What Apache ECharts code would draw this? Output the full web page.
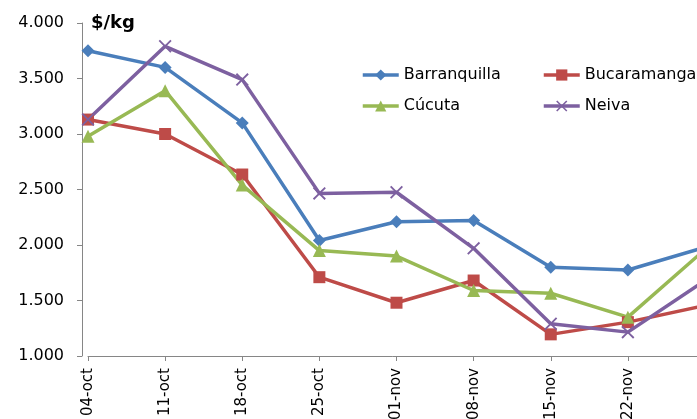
<!DOCTYPE html>
<html>
<head>
<meta charset="utf-8">
<script src="https://cdn.jsdelivr.net/npm/echarts@6/dist/echarts.min.js"></script>
<style>
  html, body { margin: 0; padding: 0; background: #fff; }
  #chart { width: 697px; height: 419px; }
</style>
</head>
<body>
<div id="chart"></div>
<script>
// fechas semanales
var weeks = ['04-oct', '11-oct', '18-oct', '25-oct', '01-nov', '08-nov', '15-nov', '22-nov', '29-nov'];
// precios $/kg por ciudad
var barranquilla = [3750, 3600, 3100, 2040, 2210, 2220, 1800, 1775, 1980];
var bucaramanga = [3130, 3000, 2635, 1710, 1480, 1680, 1195, 1305, 1455];
var cucuta = [2980, 3390, 2540, 1950, 1900, 1590, 1565, 1350, 1960];
var neiva = [3130, 3790, 3490, 2465, 2475, 1970, 1290, 1215, 1680];
var yTicks = { min: 1000, max: 4000, step: 500 };

var FONT = "'Century Gothic', 'DejaVu Sans', sans-serif";
var crossPath = 'path://M0,1 L1,0 L5,4 L9,0 L10,1 L6,5 L10,9 L9,10 L5,6 L1,10 L0,9 L4,5 Z';

function miles(v) {
  return String(v).replace(/\B(?=(\d{3})+(?!\d))/g, '.');
}

function serie(name, data, color, symbol, size) {
  return {
    name: name,
    type: 'line',
    data: data,
    symbol: symbol,
    symbolSize: size,
    showAllSymbol: true,
    lineStyle: { color: color, width: 3.5 },
    itemStyle: { color: color, borderColor: color, borderWidth: 0 },
    emphasis: { disabled: true },
    z: 2
  };
}

function leyenda(names, left) {
  return {
    data: names,
    orient: 'vertical',
    left: left,
    top: 67,
    padding: 0,
    itemWidth: 36,
    itemHeight: 14,
    itemGap: 15,
    lineStyle: { width: 3.5 },
    textStyle: { fontFamily: FONT, fontSize: 16, color: '#000', lineHeight: 16 }
  };
}

var chart = echarts.init(document.getElementById('chart'));
chart.setOption({
  animation: false,
  backgroundColor: '#fff',
  textStyle: { fontFamily: FONT },
  title: {
    text: '$/kg',
    left: 86,
    top: 9,
    textStyle: { fontFamily: FONT, fontSize: 18, fontWeight: 'bold', color: '#000' }
  },
  legend: [leyenda(['Barranquilla', 'Cúcuta'], 361), leyenda(['Bucaramanga', 'Neiva'], 542)],
  grid: { left: 88, right: -8, top: 23, bottom: 63, containLabel: false, outerBoundsMode: 'none' },
  xAxis: {
    type: 'category',
    data: weeks,
    boundaryGap: false,
    axisLine: { lineStyle: { color: '#868686', width: 1 } },
    axisTick: { show: true, length: 5, lineStyle: { color: '#868686' } },
    axisLabel: { rotate: 90, margin: 12, interval: 0, fontFamily: FONT, fontSize: 15, color: '#000' }
  },
  yAxis: {
    type: 'value',
    min: yTicks.min,
    max: yTicks.max,
    interval: yTicks.step,
    offset: 6,
    axisLine: { show: true, lineStyle: { color: '#868686', width: 1 } },
    axisTick: { show: true, length: 5, lineStyle: { color: '#868686' } },
    splitLine: { show: false },
    axisLabel: { formatter: miles, margin: 18, fontFamily: FONT, fontSize: 16, color: '#000' }
  },
  series: [
    serie('Barranquilla', barranquilla, '#4A7EBB', 'diamond', 13),
    serie('Bucaramanga', bucaramanga, '#BE4B48', 'rect', 12),
    serie('Cúcuta', cucuta, '#98B954', 'triangle', 13),
    serie('Neiva', neiva, '#7D60A0', crossPath, 13)
  ]
});
</script>
</body>
</html>
